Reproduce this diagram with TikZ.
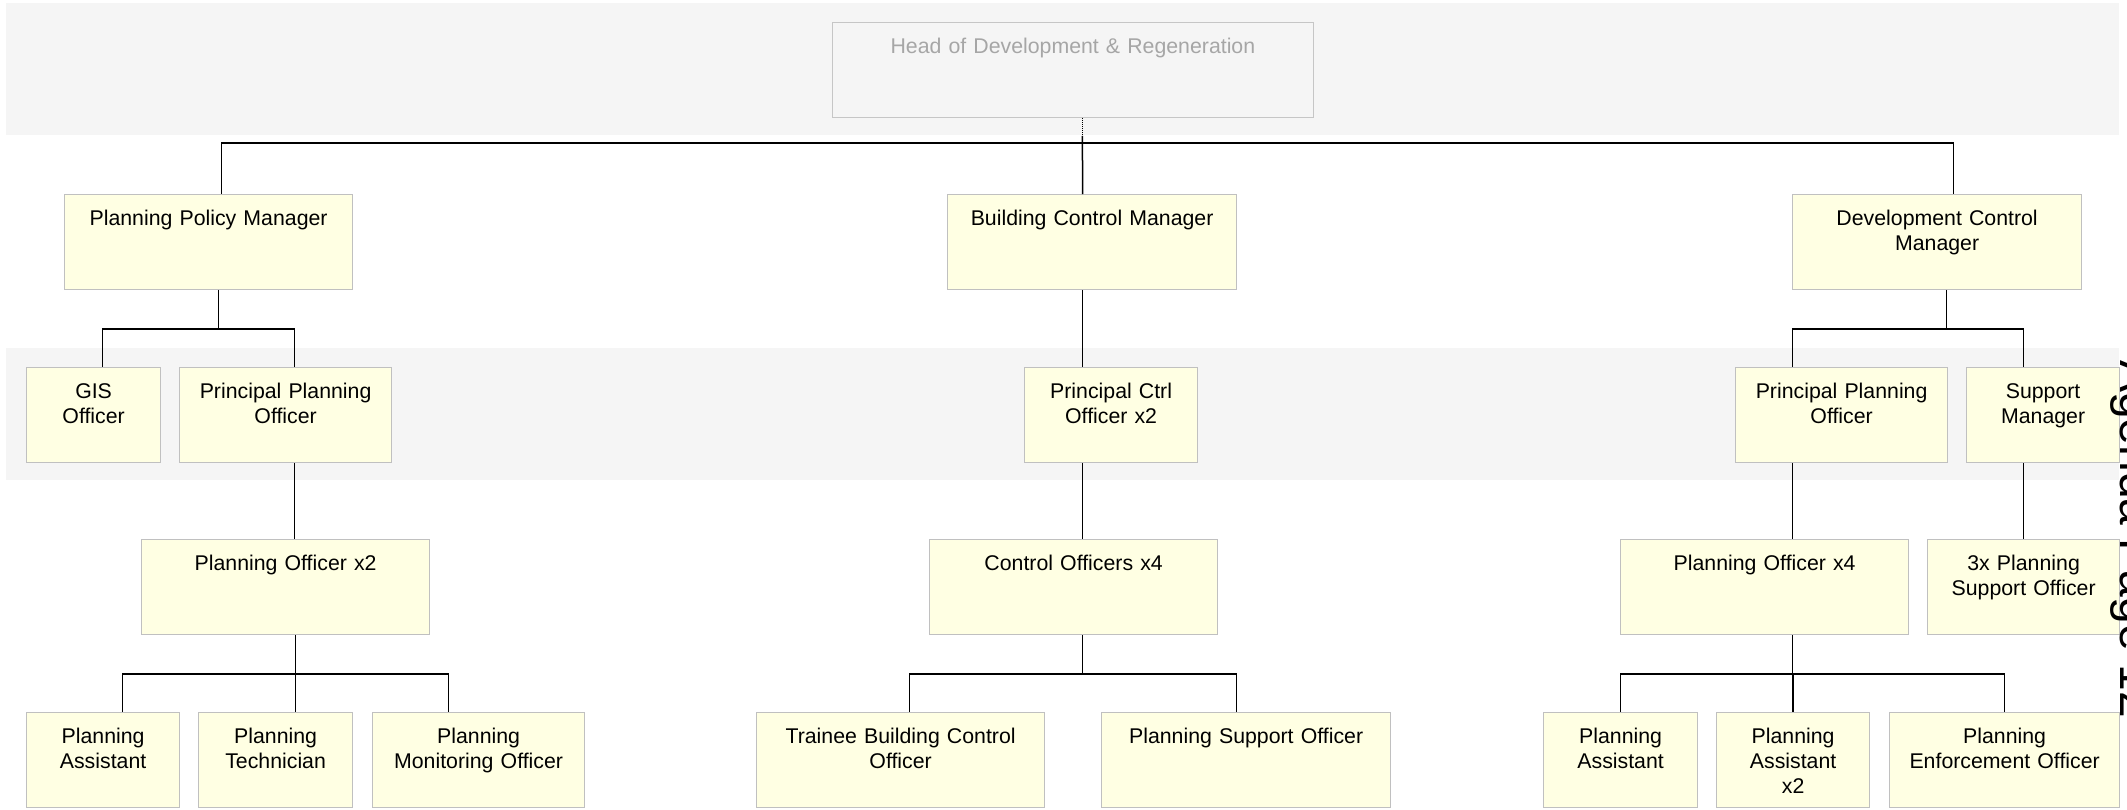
\documentclass[tikz,border=0pt]{standalone}
\usepackage{fontspec}
\setmainfont{Liberation Sans}
\usepackage{tikz}
\usetikzlibrary{positioning}

\definecolor{postfill}{RGB}{255,255,227}
\definecolor{postline}{RGB}{192,192,192}
\definecolor{bandfill}{RGB}{245,245,245}

\tikzset{
  post/.style={draw=postline, line width=1.2pt, fill=postfill, anchor=north west,
    align=center, inner xsep=0pt, inner ysep=0pt, text height=31pt, text depth=64pt,
    font=\fontsize{21.3}{25}\selectfont},
  headpost/.style={post, draw=gray!45, line width=0.8pt, fill=none, text=gray!70},
  wire/.style={draw=black, line width=1.5pt},
  band/.style={fill=bandfill}
}

\begin{document}
\begin{tikzpicture}[x=1pt, y=-1pt]
    \path[use as bounding box, clip] (0,0) rectangle (2127,809);
    % background bands
    \fill[band] (6,3) rectangle (2119,135);
    \fill[band] (6,348) rectangle (2119,480);

    \node[headpost, text width=481pt] (head) at (832,22) {Head of Development \& Regeneration};

    % managers
    \node[post, text width=288pt] (ppm) at (64,194) {Planning Policy Manager};
    \node[post, text width=289pt] (bcm) at (947,194) {Building Control Manager};
    \node[post, text width=289pt] (dcm) at (1792,194) {Development Control\\Manager};

    % second row
    \node[post, text width=134pt] (gis) at (26,367) {GIS\\Officer};
    \node[post, text width=212pt] (ppol) at (179,367) {Principal Planning\\Officer};
    \node[post, text width=173pt] (pco) at (1024,367) {Principal Ctrl\\Officer x2};
    \node[post, text width=212pt] (ppor) at (1735,367) {Principal Planning\\Officer};
    \node[post, text width=153pt] (sm) at (1966,367) {Support\\Manager};

    % third row
    \node[post, text width=288pt] (potwo) at (141,539) {Planning Officer x2};
    \node[post, text width=288pt] (cofour) at (929,539) {Control Officers x4};
    \node[post, text width=288pt] (pofour) at (1620,539) {Planning Officer x4};
    \node[post, text width=192pt] (psothree) at (1927,539) {3x Planning\\Support Officer};

    % bottom row
    \node[post, text width=153pt] (pal) at (26,712) {Planning\\Assistant};
    \node[post, text width=154pt] (pt) at (198,712) {Planning\\Technician};
    \node[post, text width=212pt] (pmo) at (372,712) {Planning\\Monitoring Officer};
    \node[post, text width=288pt] (tbco) at (756,712) {Trainee Building Control\\Officer};
    \node[post, text width=289pt] (pso) at (1101,712) {Planning Support Officer};
    \node[post, text width=154pt] (par) at (1543,712) {Planning\\Assistant};
    \node[post, text width=153pt] (partwo) at (1716,712) {Planning\\Assistant\\x2};
    \node[post, text width=230pt] (peo) at (1889,712) {Planning\\Enforcement Officer};

    % connectors
    \draw[wire, line width=1pt, densely dotted] ([xshift=9.5pt]head.south) -- ++(0,18) coordinate (hj);
    \draw[wire] (hj) -- ++(0,7) -| ([xshift=13pt]ppm.north);
    \draw[wire] (hj) -- ([xshift=-9.5pt]bcm.north);
    \draw[wire] (hj) -- ++(0,7) -| ([xshift=16.5pt]dcm.north);

    \draw[wire] ([xshift=10pt]ppm.south) -- ++(0,39) -| ([xshift=9pt]gis.north);
    \draw[wire] ([xshift=10pt]ppm.south) -- ++(0,39) -| ([xshift=9pt]ppol.north);
    \draw[wire] ([xshift=9pt]ppol.south) -- ([xshift=9pt]potwo.north);
    \draw[wire] ([xshift=10pt]potwo.south) -- ++(0,39) -| ([xshift=19.5pt]pal.north);
    \draw[wire] ([xshift=10pt]potwo.south) -- ++(0,39) -| ([xshift=20pt]pt.north);
    \draw[wire] ([xshift=10pt]potwo.south) -- ++(0,39) -| ([xshift=-30pt]pmo.north);

    \draw[wire] ([xshift=-9.5pt]bcm.south) -- ([xshift=-28.5pt]pco.north);
    \draw[wire] ([xshift=-28.5pt]pco.south) -- ([xshift=9pt]cofour.north);
    \draw[wire] ([xshift=9pt]cofour.south) -- ++(0,39) -| ([xshift=9pt]tbco.north);
    \draw[wire] ([xshift=9pt]cofour.south) -- ++(0,39) -| ([xshift=-9.5pt]pso.north);

    \draw[wire] ([xshift=9.5pt]dcm.south) -- ++(0,39) -| ([xshift=-49pt]ppor.north);
    \draw[wire] ([xshift=9.5pt]dcm.south) -- ++(0,39) -| ([xshift=-19.5pt]sm.north);
    \draw[wire] ([xshift=-49pt]ppor.south) -- ([xshift=28pt]pofour.north);
    \draw[wire] ([xshift=-19.5pt]sm.south) -- (psothree.north);
    \draw[wire] ([xshift=28pt]pofour.south) -- ++(0,39) -| (par.north);
    \draw[wire] ([xshift=28pt]pofour.south) -- ++(0,39) -| (partwo.north);
    \draw[wire] ([xshift=28pt]pofour.south) -- ++(0,39) -| (peo.north);

    % page stamp, cut off at the edge
    \node[rotate=-90, anchor=base west, inner sep=0pt, font=\fontsize{48}{50}\selectfont] (stamp) at (2120,360) {Agenda Page 12};
\end{tikzpicture}
\end{document}
